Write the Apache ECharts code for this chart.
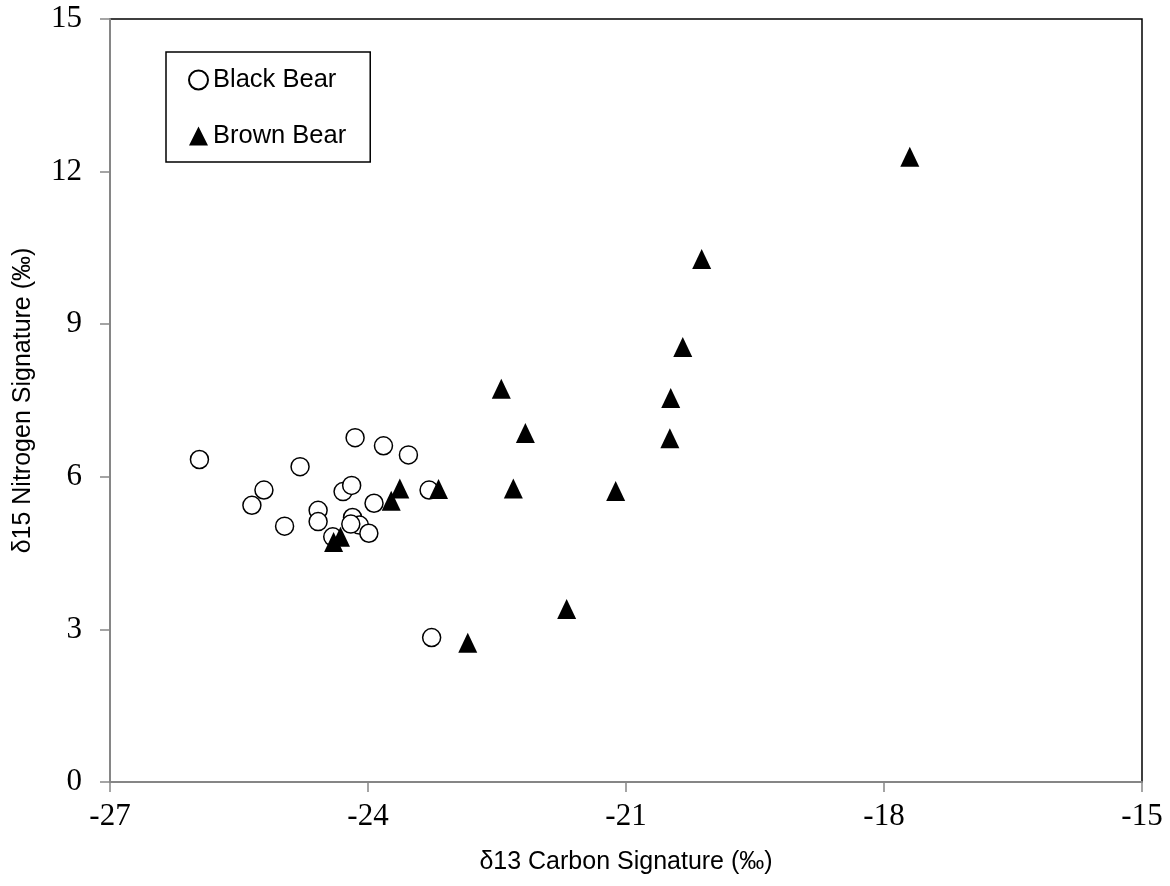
<!DOCTYPE html>
<html>
<head>
<meta charset="utf-8">
<script src="https://cdn.jsdelivr.net/npm/echarts@6/dist/echarts.min.js"></script>
<style>
html,body{margin:0;padding:0;background:#fff;}
#chart{width:1170px;height:886px;}
</style>
</head>
<body>
<div id="chart"></div>
<script>
var xTicks = [-27, -24, -21, -18, -15];
var yTicks = [0, 3, 6, 9, 12, 15];

var blackBearX = [-25.96, -24.79, -25.21, -25.35, -24.97, -24.58, -24.58, -24.41, -24.29, -24.19,
                  -24.15, -23.82, -23.53, -23.93, -23.29, -24.18, -24.10, -24.20, -23.99, -23.26];
var blackBearY = [6.34, 6.20, 5.74, 5.44, 5.03, 5.34, 5.12, 4.82, 5.71, 5.83,
                  6.77, 6.61, 6.43, 5.48, 5.74, 5.20, 5.05, 5.07, 4.89, 2.84];

var brownBearX = [-24.40, -24.32, -23.73, -23.63, -23.18, -22.84, -22.45, -22.31, -22.17, -21.69,
                  -21.12, -20.49, -20.48, -20.34, -20.12, -17.70];
var brownBearY = [4.72, 4.82, 5.53, 5.77, 5.76, 2.74, 7.73, 5.77, 6.86, 3.40,
                  5.72, 6.76, 7.55, 8.55, 10.28, 12.29];

function pairs(xs, ys) {
  var out = [];
  for (var i = 0; i < xs.length; i++) out.push([xs[i], ys[i]]);
  return out;
}

var chart = echarts.init(document.getElementById('chart'), null, {renderer: 'canvas'});
var labelFont = {color: '#000', fontFamily: '"Liberation Serif", "Times New Roman", serif', fontSize: 31};
var nameFont = {color: '#000', fontFamily: '"Liberation Sans", Arial, sans-serif', fontSize: 25};

chart.setOption({
  backgroundColor: '#fff',
  animation: false,
  grid: {left: 110, right: 28, top: 19, bottom: 104, show: true, borderColor: '#000', borderWidth: 1.5, backgroundColor: 'transparent'},
  legend: {
    orient: 'vertical',
    left: 166, top: 52,
    padding: [15, 24, 13, 22],
    itemGap: 30,
    itemWidth: 19, itemHeight: 19,
    borderColor: '#000', borderWidth: 1.5,
    backgroundColor: '#fff',
    textStyle: {color: '#000', fontFamily: '"Liberation Sans", Arial, sans-serif', fontSize: 25.5, lineHeight: 25},
    data: [
      {name: 'Black Bear', icon: 'circle'},
      {name: 'Brown Bear', icon: 'triangle'}
    ]
  },
  xAxis: {
    type: 'value', min: xTicks[0], max: xTicks[xTicks.length - 1], interval: 3,
    name: 'δ13 Carbon Signature (‰)', nameLocation: 'middle', nameGap: 68,
    nameTextStyle: nameFont,
    axisLine: {show: true, onZero: false, lineStyle: {color: '#868686', width: 2}},
    axisTick: {show: true, length: 10, inside: false, lineStyle: {color: '#868686', width: 1.5}},
    axisLabel: Object.assign({margin: 19}, labelFont),
    splitLine: {show: false}
  },
  yAxis: {
    type: 'value', min: yTicks[0], max: yTicks[yTicks.length - 1], interval: 3,
    name: 'δ15 Nitrogen Signature (‰)', nameLocation: 'middle', nameGap: 74,
    nameTextStyle: nameFont,
    axisLine: {show: true, onZero: false, lineStyle: {color: '#868686', width: 2}},
    axisTick: {show: true, length: 10, inside: false, lineStyle: {color: '#868686', width: 1.5}},
    axisLabel: Object.assign({margin: 28}, labelFont),
    splitLine: {show: false}
  },
  series: [
    {
      name: 'Black Bear', type: 'scatter', symbol: 'circle', symbolSize: 18,
      itemStyle: {color: '#fff', borderColor: '#000', borderWidth: 1.5, opacity: 1},
      data: pairs(blackBearX, blackBearY)
    },
    {
      name: 'Brown Bear', type: 'scatter', symbol: 'triangle', symbolSize: [19, 20],
      itemStyle: {color: '#000', borderColor: '#000', borderWidth: 0, opacity: 1},
      data: pairs(brownBearX, brownBearY)
    }
  ]
});
</script>
</body>
</html>
